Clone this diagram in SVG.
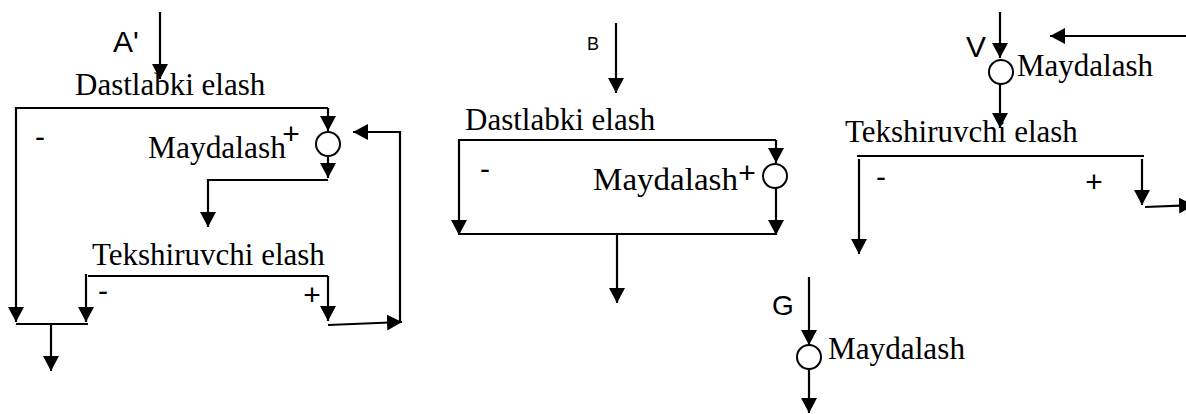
<svg xmlns="http://www.w3.org/2000/svg" width="1186" height="414" viewBox="0 0 1186 414">
<style>
.t{font-family:"Liberation Serif","Times New Roman",serif;font-size:31px;fill:#000}
.s{font-family:"Liberation Sans",Arial,sans-serif;fill:#000}
.pm{font-family:"Liberation Sans",Arial,sans-serif;font-size:30px;fill:#000;text-anchor:middle}
.c{fill:none;stroke:#000;stroke-width:2.2}
.a{marker-end:url(#ah)}
.n{fill:#fff;stroke:#000;stroke-width:2}
</style>
<defs>
<marker id="ah" markerUnits="userSpaceOnUse" markerWidth="16" markerHeight="16" refX="15" refY="8" orient="auto" viewBox="0 0 16 16">
<path d="M0,0 L15,8 L0,16 z" fill="#000"/>
</marker>
</defs>
<rect width="1186" height="414" fill="#fff"/>
<g id="connectors">
<!-- panel A -->
<path class="c a" d="M160,12 V79"/>
<path class="c a" d="M328,108 H16 V322"/>
<path class="c a" d="M328,108 V131"/>
<path class="c a" d="M328,156 V178"/>
<path class="c a" d="M328,180 H208 V227"/>
<path class="c" d="M88,276 H328"/>
<path class="c a" d="M86,274 V322"/>
<path class="c a" d="M328,276 V321"/>
<path class="c" d="M16,324 H88"/>
<path class="c a" d="M51,324 V371"/>
<path class="c a" d="M328,325 L402,322"/>
<path class="c a" d="M400,322 V132 H353"/>
<!-- panel B -->
<path class="c a" d="M616,23 V93"/>
<path class="c a" d="M776,140 H459 V235"/>
<path class="c a" d="M776,140 V163"/>
<path class="c a" d="M776,188 V235"/>
<path class="c" d="M459,234 H776"/>
<path class="c a" d="M617,234 V303"/>
<!-- panel V -->
<path class="c a" d="M1000,12 V58"/>
<path class="c a" d="M1186,36 H1050"/>
<path class="c a" d="M1000,84 V128"/>
<path class="c" d="M857,156 H1144"/>
<path class="c a" d="M859,159 V254"/>
<path class="c a" d="M1142,159 V205"/>
<path class="c a" d="M1145,207 L1194,205"/>
<!-- panel G -->
<path class="c a" d="M809,277 V345"/>
<path class="c a" d="M809,369 V413"/>
</g>
<g id="label-A"><text class="s" x="113" y="52" font-size="30">A'</text></g>
<g id="a-dastlabki"><text class="t" x="75" y="95">Dastlabki elash</text><text class="pm" x="40" y="147">-</text></g>
<g id="a-maydalash"><circle class="n" cx="328" cy="144" r="12"/><text class="t" x="148" y="158" textLength="138" lengthAdjust="spacingAndGlyphs">Maydalash</text><text class="pm" x="291" y="144">+</text></g>
<g id="a-tekshiruvchi"><text class="t" x="92" y="265">Tekshiruvchi elash</text><text class="pm" x="103" y="301">-</text><text class="pm" x="312" y="305">+</text></g>
<g id="label-B"><text class="s" x="587" y="50" font-size="18">B</text></g>
<g id="b-dastlabki"><text class="t" x="465" y="130">Dastlabki elash</text><text class="pm" x="485" y="179">-</text></g>
<g id="b-maydalash"><circle class="n" cx="775" cy="176" r="12"/><text class="t" x="593" y="190" textLength="145" lengthAdjust="spacingAndGlyphs">Maydalash</text><text class="pm" x="747" y="183">+</text></g>
<g id="label-V"><text class="s" x="966" y="57" font-size="30">V</text></g>
<g id="v-maydalash"><circle class="n" cx="1001" cy="72" r="12"/><text class="t" x="1017" y="76" textLength="136" lengthAdjust="spacingAndGlyphs">Maydalash</text></g>
<g id="v-tekshiruvchi"><text class="t" x="845" y="142">Tekshiruvchi elash</text><text class="pm" x="881" y="187">-</text><text class="pm" x="1094" y="192">+</text></g>
<g id="label-G"><text class="s" x="772" y="315" font-size="28">G</text></g>
<g id="g-maydalash"><circle class="n" cx="809" cy="357" r="12"/><text class="t" x="828" y="359" textLength="137" lengthAdjust="spacingAndGlyphs">Maydalash</text></g>
</svg>
